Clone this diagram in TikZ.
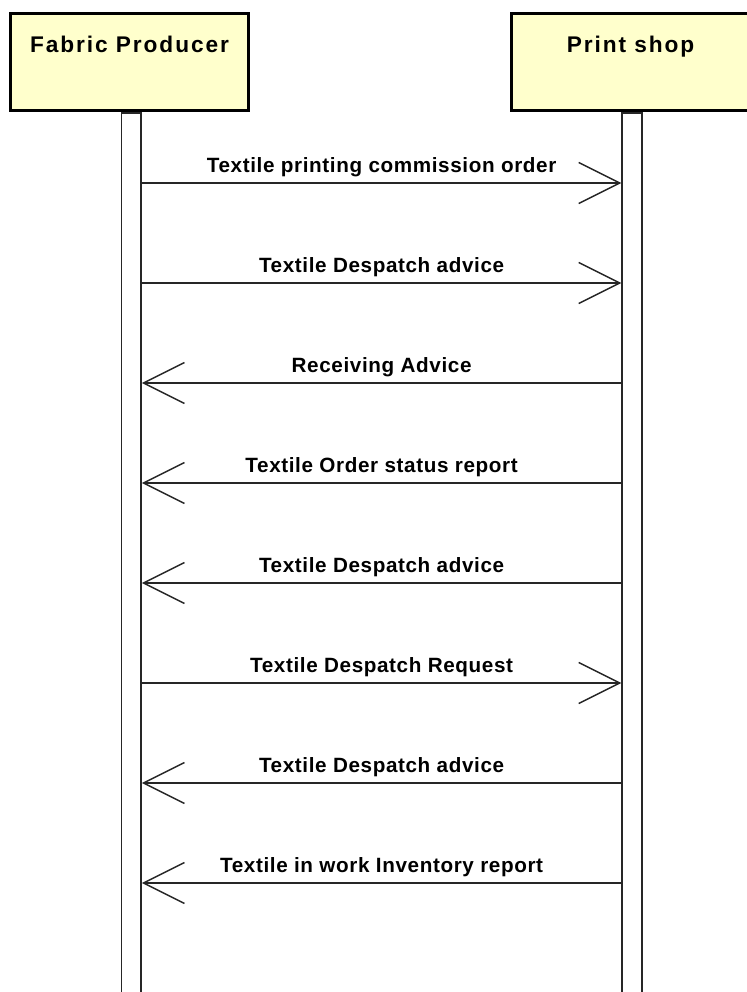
\documentclass[tikz,border=0pt]{standalone}
\usepackage{fontspec}
\setmainfont{Liberation Sans}
\newfontfamily\headfont[LetterSpace=8.5]{Liberation Sans}
\newfontfamily\msgfont[LetterSpace=3]{Liberation Sans}
\usetikzlibrary{arrows.meta, positioning}
\definecolor{actorfill}{HTML}{FFFFCC}

\begin{document}
\begin{tikzpicture}[
    x=0.75pt, y=-0.75pt,
    actor/.style={rectangle, draw=black, line width=2.25pt, fill=actorfill, minimum width=178.5pt, inner xsep=0pt, inner ysep=0pt, text height=29.25pt, text depth=43.5pt, font=\headfont\bfseries\fontsize{17}{20}\selectfont},
    bar/.style={rectangle, draw=black!85, line width=1.3pt, fill=white, minimum width=14.6pt, minimum height=675pt, inner sep=0pt, anchor=north},
    msg/.style={-{Straight Barb[length=30.75pt, width=30.75pt]}, line width=1.1pt, draw=black!85},
    msglabel/.style={anchor=base, yshift=8.25pt, inner sep=0pt, text=black, font=\msgfont\bfseries\fontsize{15.5}{18}\selectfont}
  ]
    \useasboundingbox (0,0) rectangle (746,992);

    \node[actor] (producer) at (129.5,62) {Fabric Producer};
    \node[actor] (shop) at (630.5,62) {Print shop};

    \node[bar] (producerbar) at ([xshift=1.3pt]producer.south) {};
    \node[bar] (shopbar) at ([xshift=1.1pt]shop.south) {};

    % message rows
    \coordinate (m1) at (0,183);
    \coordinate (m2) at (0,283);
    \coordinate (m3) at (0,383);
    \coordinate (m4) at (0,483);
    \coordinate (m5) at (0,583);
    \coordinate (m6) at (0,683);
    \coordinate (m7) at (0,783);
    \coordinate (m8) at (0,883);

    \draw[msg] (producerbar.east |- m1) -- node[msglabel] {Textile printing commission order} (shopbar.west |- m1);
    \draw[msg] (producerbar.east |- m2) -- node[msglabel] {Textile Despatch advice} (shopbar.west |- m2);
    \draw[msg] (shopbar.west |- m3) -- node[msglabel] {Receiving Advice} (producerbar.east |- m3);
    \draw[msg] (shopbar.west |- m4) -- node[msglabel] {Textile Order status report} (producerbar.east |- m4);
    \draw[msg] (shopbar.west |- m5) -- node[msglabel] {Textile Despatch advice} (producerbar.east |- m5);
    \draw[msg] (producerbar.east |- m6) -- node[msglabel] {Textile Despatch Request} (shopbar.west |- m6);
    \draw[msg] (shopbar.west |- m7) -- node[msglabel] {Textile Despatch advice} (producerbar.east |- m7);
    \draw[msg] (shopbar.west |- m8) -- node[msglabel] {Textile in work Inventory report} (producerbar.east |- m8);

  \end{tikzpicture}
\end{document}
